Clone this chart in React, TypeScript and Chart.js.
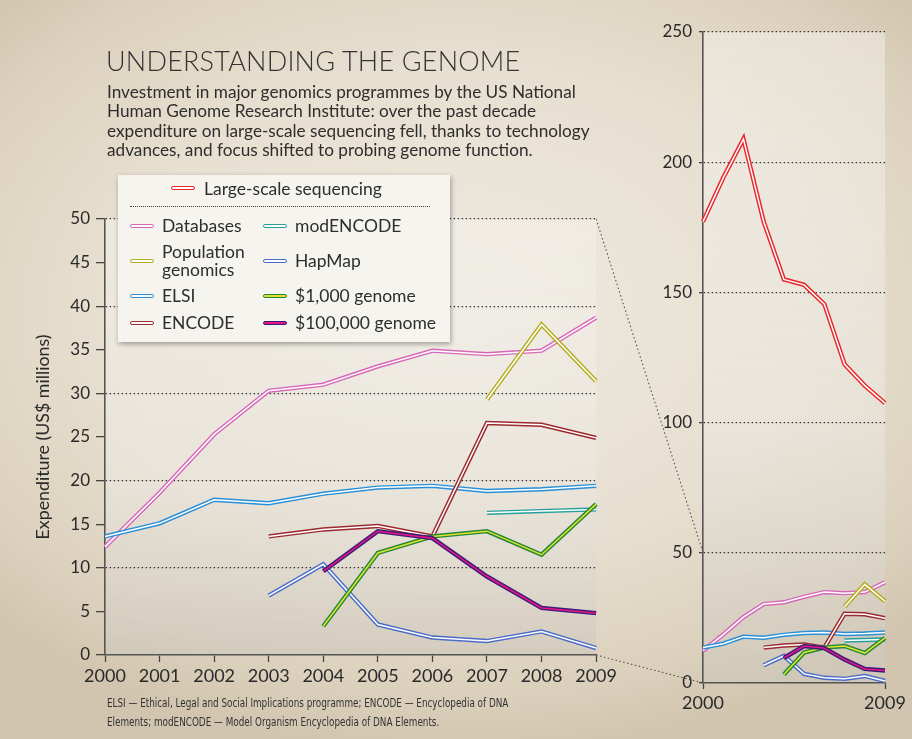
import React, { useEffect, useRef } from "react";
import { Chart, registerables } from "chart.js";

Chart.register(...registerables);

// ---------- data ----------
const YEARS = ["2000", "2001", "2002", "2003", "2004", "2005", "2006", "2007", "2008", "2009"];
const LEFT_Y_TICKS = [0, 5, 10, 15, 20, 25, 30, 35, 40, 45, 50];
const LEFT_Y_GRID = [10, 20, 30, 40, 50];
const RIGHT_Y_TICKS = [0, 50, 100, 150, 200, 250];
const RIGHT_X_SHOWN = ["2000", "2009"];

const largeScale = [177.2, 194.0, 208.9, 177.2, 155.0, 152.9, 145.5, 122.4, 114.2, 107.5];
const databases = [12.4, 18.6, 25.3, 30.3, 31.0, 33.1, 34.9, 34.5, 34.9, 38.7];
const populationGenomics = [null, null, null, null, null, null, null, 29.3, 37.9, 31.4];
const elsi = [13.6, 15.1, 17.8, 17.4, 18.5, 19.2, 19.4, 18.8, 19.0, 19.4];
const encode = [null, null, null, 13.6, 14.4, 14.8, 13.6, 26.6, 26.4, 24.9];
const modEncode = [null, null, null, null, null, null, null, 16.3, 16.5, 16.7];
const hapMap = [null, null, null, 6.8, 10.4, 3.5, 2.0, 1.6, 2.7, 0.8];
const genome1000 = [null, null, null, null, 3.3, 11.7, 13.6, 14.2, 11.5, 17.3];
const genome100000 = [null, null, null, null, 9.6, 14.2, 13.4, 9.0, 5.4, 4.8];

// ---------- styles (drawing order: first = bottom) ----------
type S = { label: string; data: (number | null)[]; outer: string; inner: string; left: boolean };
const SERIES: S[] = [
  { label: "Large-scale sequencing", data: largeScale, outer: "#e8262b", inner: "#ffffff", left: false },
  { label: "Databases", data: databases, outer: "#d768b9", inner: "#ffffff", left: true },
  { label: "Population genomics", data: populationGenomics, outer: "#b3ad1f", inner: "#ffffff", left: true },
  { label: "ELSI", data: elsi, outer: "#2a8fd6", inner: "#ffffff", left: true },
  { label: "modENCODE", data: modEncode, outer: "#26a09c", inner: "#ffffff", left: true },
  { label: "HapMap", data: hapMap, outer: "#4a6cc6", inner: "#ffffff", left: true },
  { label: "ENCODE", data: encode, outer: "#9b2a2e", inner: "#ffffff", left: true },
  { label: "$1,000 genome", data: genome1000, outer: "#23883a", inner: "#e2e22c", left: true },
  { label: "$100,000 genome", data: genome100000, outer: "#3b1c7c", inner: "#e8177f", left: true },
];

const FONT = "Lato, 'Open Sans', sans-serif";
const INK = "#2a2a2a";

function buildDatasets(list: S[]) {
  const out: any[] = [];
  list.forEach((s, i) => {
    const common = {
      data: s.data,
      pointRadius: 0,
      pointHoverRadius: 0,
      tension: 0,
      spanGaps: false,
      fill: false,
      borderJoinStyle: "miter",
      borderCapStyle: "butt",
    };
    out.push({ ...common, label: s.label + " outer", borderColor: s.outer, borderWidth: 4.4, order: 1000 - 2 * i });
    out.push({ ...common, label: s.label, borderColor: s.inner, borderWidth: 1.5, order: 1000 - 2 * i - 1 });
  });
  return out;
}

const areaBg = {
  id: "areaBg",
  beforeDraw(chart: any) {
    const { ctx, chartArea: a } = chart;
    if (!a) return;
    const g = ctx.createLinearGradient(0, a.top, 0, a.bottom);
    g.addColorStop(0, "rgba(246,244,240,0.45)");
    g.addColorStop(0.6, "rgba(236,233,227,0.55)");
    g.addColorStop(1, "rgba(205,199,188,0.6)");
    ctx.save();
    ctx.fillStyle = g;
    ctx.fillRect(a.left, a.top, a.right - a.left, a.bottom - a.top);
    ctx.restore();
  },
};

const LEGEND_ROWS: { label: string; col: number; row: number }[] = [
  { label: "Databases", col: 0, row: 0 },
  { label: "Population genomics", col: 0, row: 1 },
  { label: "ELSI", col: 0, row: 2 },
  { label: "ENCODE", col: 0, row: 3 },
  { label: "modENCODE", col: 1, row: 0 },
  { label: "HapMap", col: 1, row: 1 },
  { label: "$1,000 genome", col: 1, row: 2 },
  { label: "$100,000 genome", col: 1, row: 3 },
];

function Swatch({ s }: { s: S }) {
  return (
    <div
      style={{
        width: 22,
        height: 2,
        border: `1.6px solid ${s.outer}`,
        background: s.inner,
        borderRadius: 3,
        flex: "none",
      }}
    />
  );
}

export default function App() {
  const leftRef = useRef<HTMLCanvasElement>(null);
  const rightRef = useRef<HTMLCanvasElement>(null);
  const overRef = useRef<HTMLCanvasElement>(null);

  useEffect(() => {
    const tickFont = { family: FONT, size: 17 };
    const left = new Chart(leftRef.current!, {
      type: "line",
      data: { labels: YEARS, datasets: buildDatasets(SERIES.filter((s) => s.left)) },
      plugins: [areaBg],
      options: {
        responsive: false,
        animation: false,
        events: [],
        layout: { padding: { top: 29, right: 23, left: 0, bottom: 0 } },
        plugins: { legend: { display: false }, tooltip: { enabled: false } },
        scales: {
          x: {
            type: "category",
            offset: false,
            grid: { drawOnChartArea: false, drawTicks: true, tickLength: 7, tickColor: "#444", tickWidth: 1.3 },
            border: { display: true, color: "#555", width: 1.6 },
            ticks: { font: { family: FONT, size: 18 }, color: INK, padding: 3, maxRotation: 0, autoSkip: false },
            afterFit: (s: any) => {
              s.height = 55;
            },
          },
          y: {
            min: 0,
            max: 50,
            afterBuildTicks: (s: any) => {
              s.ticks = LEFT_Y_TICKS.map((v) => ({ value: v }));
            },
            grid: {
              color: (c: any) => (c.tick && LEFT_Y_GRID.includes(c.tick.value) ? "#333" : "rgba(0,0,0,0)"),
              lineWidth: 1.3,
              tickLength: 9,
              tickColor: "#444",
              tickWidth: 1.3,
            },
            border: { display: true, color: "#555", width: 1.6, dash: [1.5, 2.5] },
            ticks: { font: tickFont, color: INK, padding: 6 },
            title: {
              display: true,
              text: "Expenditure (US$ millions)",
              font: { family: FONT, size: 17.8 },
              color: INK,
              padding: { top: 33, bottom: 0 },
            },
            afterFit: (s: any) => {
              s.width = 105;
            },
          },
        },
      } as any,
    });

    const right = new Chart(rightRef.current!, {
      type: "line",
      data: { labels: YEARS, datasets: buildDatasets(SERIES) },
      plugins: [areaBg],
      options: {
        responsive: false,
        animation: false,
        events: [],
        layout: { padding: { top: 32, right: 27, left: 0, bottom: 0 } },
        plugins: { legend: { display: false }, tooltip: { enabled: false } },
        scales: {
          x: {
            type: "category",
            offset: false,
            grid: {
              drawOnChartArea: false,
              drawTicks: true,
              tickLength: 6,
              tickColor: (c: any) =>
                c.tick && RIGHT_X_SHOWN.includes(YEARS[c.index]) ? "#444" : "rgba(0,0,0,0)",
              tickWidth: 1.3,
            },
            border: { display: true, color: "#555", width: 1.6 },
            ticks: {
              font: { family: FONT, size: 18 },
              color: INK,
              padding: 3,
              maxRotation: 0,
              autoSkip: false,
              callback: (_v: any, i: number) => (RIGHT_X_SHOWN.includes(YEARS[i]) ? YEARS[i] : ""),
            },
            afterFit: (s: any) => {
              s.height = 56;
            },
          },
          y: {
            min: 0,
            max: 250,
            afterBuildTicks: (s: any) => {
              s.ticks = RIGHT_Y_TICKS.map((v) => ({ value: v }));
            },
            grid: {
              color: (c: any) => (c.tick && c.tick.value > 0 ? "#333" : "rgba(0,0,0,0)"),
              lineWidth: 1.3,
              tickLength: 4,
              tickColor: "#444",
              tickWidth: 1.3,
            },
            border: { display: true, color: "#555", width: 1.6, dash: [1.5, 2.5] },
            ticks: { font: tickFont, color: INK, padding: 7 },
            afterFit: (s: any) => {
              s.width = 83;
            },
          },
        },
      } as any,
    });

    // dotted connectors between the two panels
    const ov = overRef.current!;
    const ctx = ov.getContext("2d")!;
    ctx.clearRect(0, 0, ov.width, ov.height);
    const lx = left.scales.x, ly = left.scales.y, rx = right.scales.x, ry = right.scales.y;
    const LOFF = { x: 0, y: 190 }, ROFF = { x: 620, y: 0 };
    ctx.save();
    ctx.strokeStyle = "#555";
    ctx.lineWidth = 1.1;
    ctx.setLineDash([1.5, 2.5]);
    const seg = (a: number, b: number) => {
      ctx.beginPath();
      ctx.moveTo(lx.right + LOFF.x, ly.getPixelForValue(a) + LOFF.y);
      ctx.lineTo(rx.left + ROFF.x, ry.getPixelForValue(b) + ROFF.y);
      ctx.stroke();
    };
    seg(50, 50);
    seg(0, 0);
    ctx.restore();

    return () => {
      left.destroy();
      right.destroy();
    };
  }, []);

  const large = SERIES[0];
  const byLabel = (l: string) => SERIES.find((s) => s.label === l)!;

  return (
    <div
      style={{
        position: "fixed",
        left: 0,
        top: 0,
        width: 912,
        height: 739,
        overflow: "hidden",
        fontFamily: FONT,
        color: INK,
        background:
          "radial-gradient(ellipse 70% 60% at 50% 42%, #eeeae1 0%, #e7dfd0 55%, #dcd1bd 85%, #d1c5af 100%)",
      }}
    >
      <canvas ref={overRef} width={912} height={739} style={{ position: "absolute", left: 0, top: 0 }} />
      <canvas
        ref={leftRef}
        width={620}
        height={520}
        style={{ position: "absolute", left: 0, top: 190, width: 620, height: 520 }}
      />
      <canvas
        ref={rightRef}
        width={292}
        height={739}
        style={{ position: "absolute", left: 620, top: 0, width: 292, height: 739 }}
      />

      <div
        style={{
          position: "absolute",
          left: 106,
          top: 44,
          fontSize: 27,
          fontWeight: 300,
          letterSpacing: 0.2,
          lineHeight: "34px",
          whiteSpace: "nowrap",
          color: "#333",
        }}
      >
        UNDERSTANDING THE GENOME
      </div>
      <div
        style={{
          position: "absolute",
          left: 107,
          top: 82,
          fontSize: 17.2,
          lineHeight: "19.4px",
          whiteSpace: "nowrap",
          color: "#2e2e2e",
        }}
      >
        Investment in major genomics programmes by the US National
        <br />
        Human Genome Research Institute: over the past decade
        <br />
        expenditure on large-scale sequencing fell, thanks to technology
        <br />
        advances, and focus shifted to probing genome function.
      </div>

      <div
        style={{
          position: "absolute",
          left: 118,
          top: 175,
          width: 332,
          height: 167,
          background: "#f6f4ef",
          boxShadow: "1px 2px 5px rgba(0,0,0,0.35)",
          fontSize: 17.5,
          color: "#2e2e2e",
        }}
      >
        <div style={{ position: "absolute", left: 53, top: 2, height: 22, display: "flex", alignItems: "center", gap: 9 }}>
          <Swatch s={large} />
          <span style={{ whiteSpace: "nowrap" }}>{large.label}</span>
        </div>
        <div
          style={{
            position: "absolute",
            left: 12,
            top: 31,
            width: 300,
            borderTop: "1.5px dotted #444",
          }}
        />
        {LEGEND_ROWS.map((r) => {
          const s = byLabel(r.label);
          const rowCenters = [51, 86, 121, 148];
          const lefts = [12, 145];
          const two = r.label === "Population genomics";
          return (
            <div
              key={r.label}
              style={{
                position: "absolute",
                left: lefts[r.col],
                top: rowCenters[r.row] - (two ? 19 : 11),
                height: two ? 38 : 22,
                display: "flex",
                alignItems: "center",
                gap: 8,
              }}
            >
              <Swatch s={s} />
              <span style={{ whiteSpace: "nowrap", lineHeight: "18px" }}>
                {two ? (
                  <>
                    Population
                    <br />
                    genomics
                  </>
                ) : (
                  s.label
                )}
              </span>
            </div>
          );
        })}
      </div>

      <div
        style={{
          position: "absolute",
          left: 107,
          top: 693,
          fontFamily: "'Liberation Sans Narrow', 'DejaVu Sans Condensed', sans-serif",
          fontSize: 13,
          lineHeight: "19px",
          whiteSpace: "nowrap",
          color: "#333",
          transform: "scaleX(0.755)",
          transformOrigin: "0 0",
        }}
      >
        ELSI — Ethical, Legal and Social Implications programme; ENCODE — Encyclopedia of DNA
        <br />
        Elements; modENCODE — Model Organism Encyclopedia of DNA Elements.
      </div>
    </div>
  );
}
